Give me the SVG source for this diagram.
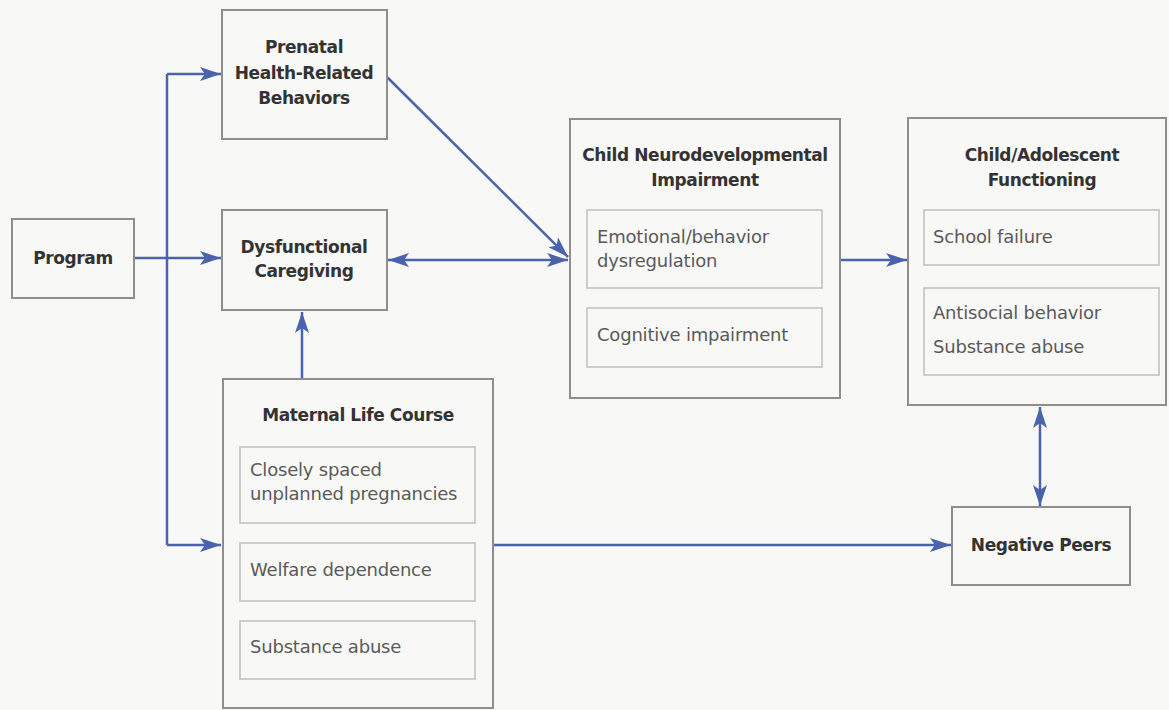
<svg xmlns="http://www.w3.org/2000/svg" width="1169" height="710" viewBox="0 0 1169 710">
<defs>
<style>
.box{fill:none;stroke:#8e8e8e;stroke-width:2}
.inner{fill:none;stroke:#c2c2c2;stroke-width:1.6}
.title{font-family:"DejaVu Sans",sans-serif;font-weight:bold;font-size:17px;fill:#333;text-anchor:middle;letter-spacing:-0.4px}
.item{font-family:"DejaVu Sans",sans-serif;font-size:18px;fill:#5a5a5a;letter-spacing:-0.2px}
.con{fill:none;stroke:#4a63ac;stroke-width:2.5}
</style>
<marker id="ah" markerUnits="userSpaceOnUse" markerWidth="22" markerHeight="14" refX="21" refY="7" orient="auto-start-reverse" viewBox="0 0 22 14">
<path d="M0,0 L21,7 L0,14 L5,7 Z" fill="#4a63ac"/>
</marker>
</defs>
<rect width="1169" height="710" fill="#f8f8f7"/>
<g id="connectors">
<path class="con" d="M167,74 L167,545"/>
<path class="con" d="M167,74 L221,74" marker-end="url(#ah)"/>
<path class="con" d="M134,258 L221,258" marker-end="url(#ah)"/>
<path class="con" d="M167,545 L221,545" marker-end="url(#ah)"/>
<path class="con" d="M302,379 L302,312" marker-end="url(#ah)"/>
<path class="con" d="M387,77 L568,257" marker-end="url(#ah)"/>
<path class="con" d="M388,260 L568,260" marker-start="url(#ah)" marker-end="url(#ah)"/>
<path class="con" d="M841,260 L907,260" marker-end="url(#ah)"/>
<path class="con" d="M1040,407 L1040,506" marker-start="url(#ah)" marker-end="url(#ah)"/>
<path class="con" d="M493,545 L951,545" marker-end="url(#ah)"/>
</g>
<g id="program">
<rect class="box" x="12" y="219" width="122" height="79"/>
<text class="title" x="73" y="264">Program</text>
</g>
<g id="prenatal">
<rect class="box" x="222" y="10" width="165" height="129"/>
<text class="title" x="304" y="53">Prenatal</text>
<text class="title" x="304" y="79">Health-Related</text>
<text class="title" x="304" y="104">Behaviors</text>
</g>
<g id="dysfunctional">
<rect class="box" x="222" y="210" width="165" height="100"/>
<text class="title" x="304" y="253">Dysfunctional</text>
<text class="title" x="304" y="277">Caregiving</text>
</g>
<g id="maternal">
<rect class="box" x="223" y="379" width="270" height="329"/>
<text class="title" x="358" y="421">Maternal Life Course</text>
<rect class="inner" x="240" y="447" width="235" height="76"/>
<text class="item" x="250" y="476">Closely spaced</text>
<text class="item" x="250" y="500">unplanned pregnancies</text>
<rect class="inner" x="240" y="543" width="235" height="58"/>
<text class="item" x="250" y="576">Welfare dependence</text>
<rect class="inner" x="240" y="621" width="235" height="58"/>
<text class="item" x="250" y="653">Substance abuse</text>
</g>
<g id="child-neuro">
<rect class="box" x="570" y="119" width="270" height="279"/>
<text class="title" x="705" y="161">Child Neurodevelopmental</text>
<text class="title" x="705" y="186">Impairment</text>
<rect class="inner" x="587" y="210" width="235" height="78"/>
<text class="item" x="597" y="243">Emotional/behavior</text>
<text class="item" x="597" y="267">dysregulation</text>
<rect class="inner" x="587" y="308" width="235" height="59"/>
<text class="item" x="597" y="341">Cognitive impairment</text>
</g>
<g id="child-adolescent">
<rect class="box" x="908" y="118" width="258" height="287"/>
<text class="title" x="1042" y="161">Child/Adolescent</text>
<text class="title" x="1042" y="186">Functioning</text>
<rect class="inner" x="924" y="210" width="235" height="55"/>
<text class="item" x="933" y="243">School failure</text>
<rect class="inner" x="924" y="288" width="235" height="87"/>
<text class="item" x="933" y="319">Antisocial behavior</text>
<text class="item" x="933" y="353">Substance abuse</text>
</g>
<g id="negative-peers">
<rect class="box" x="952" y="507" width="178" height="78"/>
<text class="title" x="1041" y="551">Negative Peers</text>
</g>
</svg>
